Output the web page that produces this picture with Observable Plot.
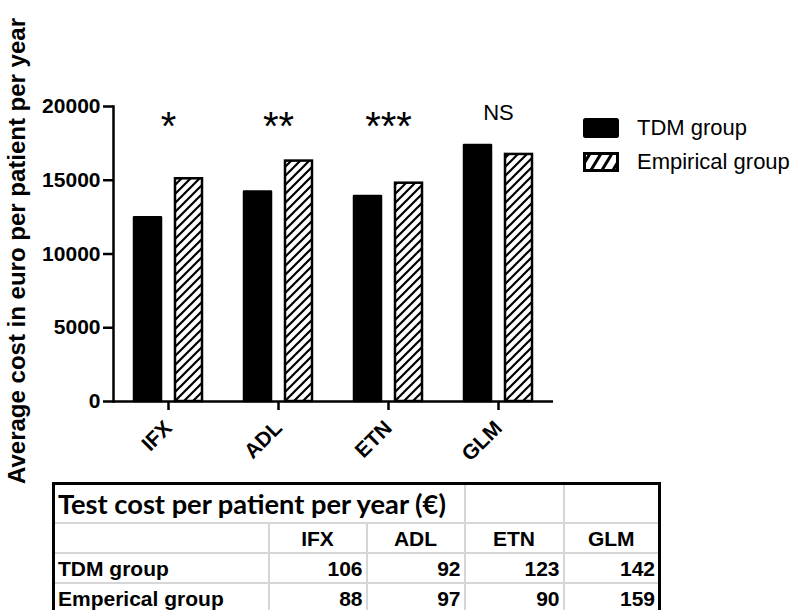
<!DOCTYPE html>
<html>
<head>
<meta charset="utf-8">
<script src="https://cdn.jsdelivr.net/npm/d3@7"></script>
<script src="https://cdn.jsdelivr.net/npm/@observablehq/plot@0.6"></script>
<style>
  html, body { margin: 0; padding: 0; background: white; }
  #wrap { position: relative; width: 805px; height: 610px; overflow: hidden; background: white; }
  #legend { position: absolute; left: 583px; top: 111px; font-family: "Liberation Sans", Arial, sans-serif; font-size: 22px; color: black; }
  .lg { display: flex; align-items: center; height: 34px; }
  .lg svg { margin-right: 18px; }
  #tbl { position: absolute; left: 52px; top: 482px; border-collapse: collapse; table-layout: fixed; width: 606px;
         font-family: "Liberation Sans", Arial, sans-serif; font-weight: bold; font-size: 21px; border: 3px solid black; }
  #tbl td { border: 2px solid #d6d6d6; padding: 0 3px; white-space: nowrap; overflow: visible; line-height: 1; }
  #tbl tr.r0 td { height: 37px; }
  #tbl tr.rn td { height: 28px; }
  #tbl td.num { text-align: right; }
  #tbl td.hd { text-align: center; }
  #tbl td.title { font-family: Lato, "Open Sans", sans-serif; font-weight: bold; text-align: left; }
</style>
</head>
<body>
<div id="wrap">
  <div id="chart"></div>
  <div id="legend"></div>
  <table id="tbl"></table>
</div>
<script>
// ---- data ----
const categories = ["IFX", "ADL", "ETN", "GLM"];
const groups = ["TDM group", "Empirical group"];
const tdmCost = [12450, 14200, 13900, 17350];
const empiricalCost = [15100, 16300, 14800, 16750];
const significance = ["*", "**", "***", "NS"];
const yTicks = [0, 5000, 10000, 15000, 20000];
const yLabel = "Average cost in euro per patient per year";

const tableTitle = "Test cost per patient per year (\u20AC)";
const tableColumns = ["IFX", "ADL", "ETN", "GLM"];
const tableRowLabels = ["TDM group", "Emperical group"];
const testCostTdm = [106, 92, 123, 142];
const testCostEmperical = [88, 97, 90, 159];

// ---- build ----
const bars = [];
categories.forEach((c, i) => {
  bars.push({cat: c, group: groups[0], value: tdmCost[i]});
  bars.push({cat: c, group: groups[1], value: empiricalCost[i]});
});
const sig = categories.map((c, i) => ({cat: c, label: significance[i]}));
const stars = sig.filter(d => d.label !== "NS");
const ns = sig.filter(d => d.label === "NS");

const svg = Plot.plot({
  width: 805,
  height: 480,
  marginLeft: 113,
  marginRight: 252,
  marginTop: 106,
  marginBottom: 79,
  style: {fontFamily: "'Liberation Sans', Arial, sans-serif", overflow: "visible", background: "white", color: "black"},
  fx: {domain: categories, padding: 0, label: null},
  x: {domain: groups, paddingInner: 0.33, paddingOuter: 0.5, axis: null},
  y: {domain: [0, 20000], label: null},
  marks: [
    Plot.barY(bars.filter(d => d.group === groups[0]), {fx: "cat", x: "group", y: "value", inset: 0,
      fill: "black", stroke: "black", strokeWidth: 2.5, strokeLinejoin: "round"}),
    Plot.barY(bars.filter(d => d.group === groups[1]), {fx: "cat", x: "group", y: "value", inset: 0,
      fill: "url(#hatch)", stroke: "black", strokeWidth: 2.5}),
    Plot.ruleY([0], {strokeWidth: 2.5}),
    Plot.frame({anchor: "left", facetAnchor: "left", strokeWidth: 2.5}),
    Plot.axisY({ticks: yTicks, tickSize: 10, tickPadding: 3, tickFormat: d => String(d),
      fontSize: 21, fontWeight: "bold", strokeWidth: 2.5, label: null}),
    Plot.axisFx({anchor: "bottom", tickSize: 9, tickRotate: -45, tickPadding: 14,
      fontSize: 21, fontWeight: "bold", strokeWidth: 2.5, label: null}),
    Plot.text(stars, {fx: "cat", text: "label", frameAnchor: "top", lineAnchor: "bottom", dy: 33, fontSize: 40}),
    Plot.text(ns, {fx: "cat", text: "label", frameAnchor: "top", lineAnchor: "bottom", dy: 13, fontSize: 22}),
    Plot.text([yLabel], {text: d => d, frameAnchor: "left", facetAnchor: "left", rotate: -90, textAnchor: "middle",
      dx: -96, dy: -3, fontSize: 24, fontWeight: "bold"})
  ]
});

d3.select(svg).insert("defs", ":first-child").html(`
  <pattern id="hatch" patternUnits="userSpaceOnUse" width="9" height="9">
    <rect width="9" height="9" fill="white"/>
    <path d="M-2,2 L2,-2 M0,9 L9,0 M7,11 L11,7" stroke="black" stroke-width="2.2"/>
  </pattern>`);
document.getElementById("chart").appendChild(svg);

// ---- legend ----
const legend = d3.select("#legend");
const l1 = legend.append("div").attr("class", "lg");
l1.append("svg").attr("width", 36).attr("height", 20).html(
  `<rect x="1" y="1" width="34" height="18" rx="1.5" fill="black" stroke="black" stroke-width="2"/>`);
l1.append("span").text(groups[0]);
const l2 = legend.append("div").attr("class", "lg");
l2.append("svg").attr("width", 36).attr("height", 20).html(
  `<defs><pattern id="hatchL" patternUnits="userSpaceOnUse" width="11" height="18">
     <rect width="11" height="18" fill="white"/>
     <path d="M-3,18 L8,0 M8,18 L19,0" stroke="black" stroke-width="3"/></pattern></defs>
   <rect x="1.5" y="1.5" width="33" height="17" fill="url(#hatchL)" stroke="black" stroke-width="3"/>`);
l2.append("span").text(groups[1]);

// ---- table ----
const tbl = d3.select("#tbl");
const cg = tbl.append("colgroup");
[215, 98, 98, 99, 96].forEach(w => cg.append("col").style("width", w + "px"));
const r0 = tbl.append("tr").attr("class", "r0");
r0.append("td").attr("colspan", 3).attr("class", "title").text(tableTitle);
r0.append("td"); r0.append("td");
const r1 = tbl.append("tr").attr("class", "rn");
r1.append("td");
tableColumns.forEach(c => r1.append("td").attr("class", "hd").text(c));
[[tableRowLabels[0], testCostTdm], [tableRowLabels[1], testCostEmperical]].forEach(([lab, vals]) => {
  const r = tbl.append("tr").attr("class", "rn");
  r.append("td").text(lab);
  vals.forEach(v => r.append("td").attr("class", "num").text(v));
});

// fit title width to ~388px like the original
const tcell = document.querySelector("#tbl td.title");
const span = document.createElement("span");
span.textContent = tableTitle;
span.style.font = "bold 23px Lato";
span.style.position = "absolute"; span.style.visibility = "hidden"; span.style.whiteSpace = "nowrap";
document.body.appendChild(span);
const w = span.getBoundingClientRect().width;
document.body.removeChild(span);
tcell.style.fontSize = (23 * 388 / w).toFixed(2) + "px";
</script>
</body>
</html>
